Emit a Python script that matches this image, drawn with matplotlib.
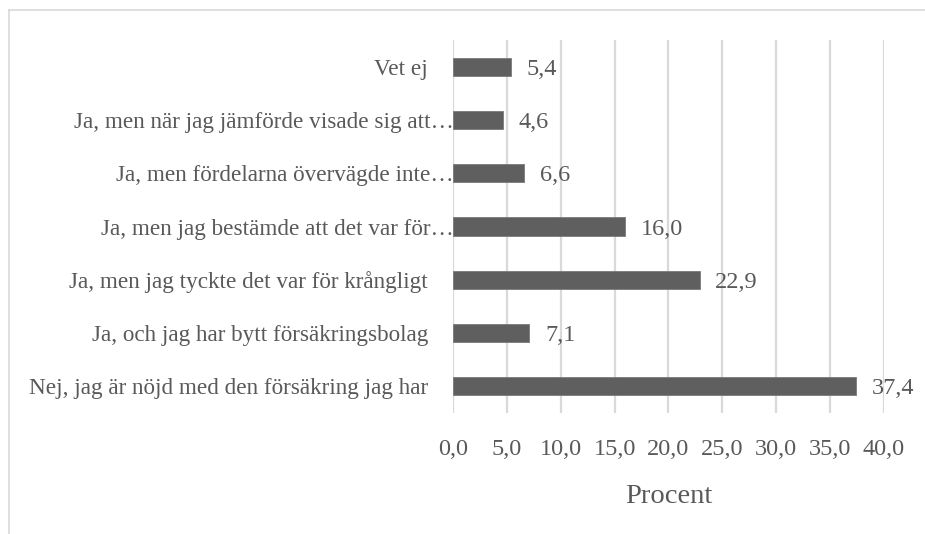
import matplotlib
matplotlib.use("Agg")
import matplotlib.pyplot as plt
from matplotlib.transforms import ScaledTranslation

# data (bottom to top)
categories = [
    "Nej, jag är nöjd med den försäkring jag har",
    "Ja, och jag har bytt försäkringsbolag",
    "Ja, men jag tyckte det var för krångligt",
    "Ja, men jag bestämde att det var för…",
    "Ja, men fördelarna övervägde inte…",
    "Ja, men när jag jämförde visade sig att…",
    "Vet ej",
]
values = [37.4, 7.1, 22.9, 16.0, 6.6, 4.6, 5.4]
xticks = [0, 5, 10, 15, 20, 25, 30, 35, 40]

plt.rcParams["font.family"] = ["Liberation Serif", "DejaVu Serif"]
txt = "#595959"

fig = plt.figure(figsize=(9.25, 5.34), dpi=100)
ax = fig.add_axes([0.4897, 0.2266, 0.4660, 0.6984])

ypos = range(len(categories))
ax.barh(ypos, values, height=0.34, color="#5f5f5f", edgecolor="#7a7a7a",
        linewidth=0.6, zorder=3)
for y, v in zip(ypos, values):
    ax.text(v + 1.45, y, f"{v:.1f}".replace(".", ","), va="center_baseline",
            ha="left", fontsize=17.5, color=txt)

ax.set_ylim(-0.5, len(categories) - 0.5)
ax.set_xlim(0, 40)
ax.set_xticks(xticks)
ax.set_xticklabels([f"{t:.1f}".replace(".", ",") for t in xticks],
                   fontsize=17.5, color=txt)
ax.set_yticks(list(ypos))
ax.set_yticklabels(categories, fontsize=16.7, color=txt)
ax.tick_params(axis="both", length=0)
ax.tick_params(axis="x", pad=19)
ax.tick_params(axis="y", pad=18)
# truncated labels sit right against the axis
for lbl in ax.get_yticklabels():
    if lbl.get_text().endswith("…"):
        lbl.set_transform(lbl.get_transform() +
                          ScaledTranslation(0.26, 0, fig.dpi_scale_trans))
ax.xaxis.grid(True, color="#d9d9d9", linewidth=1.6, zorder=0)
for s in ax.spines.values():
    s.set_visible(False)
ax.set_xlabel("Procent", fontsize=20.5, color=txt, labelpad=17)

# light outer frame (top and left visible)
fig.add_artist(plt.Line2D([0.0097, 1.0], [0.981, 0.981], color="#d9d9d9",
                          linewidth=1.2, transform=fig.transFigure))
fig.add_artist(plt.Line2D([0.0097, 0.0097], [0.0, 0.981], color="#d9d9d9",
                          linewidth=1.2, transform=fig.transFigure))

fig.savefig("out.png", dpi=100)
